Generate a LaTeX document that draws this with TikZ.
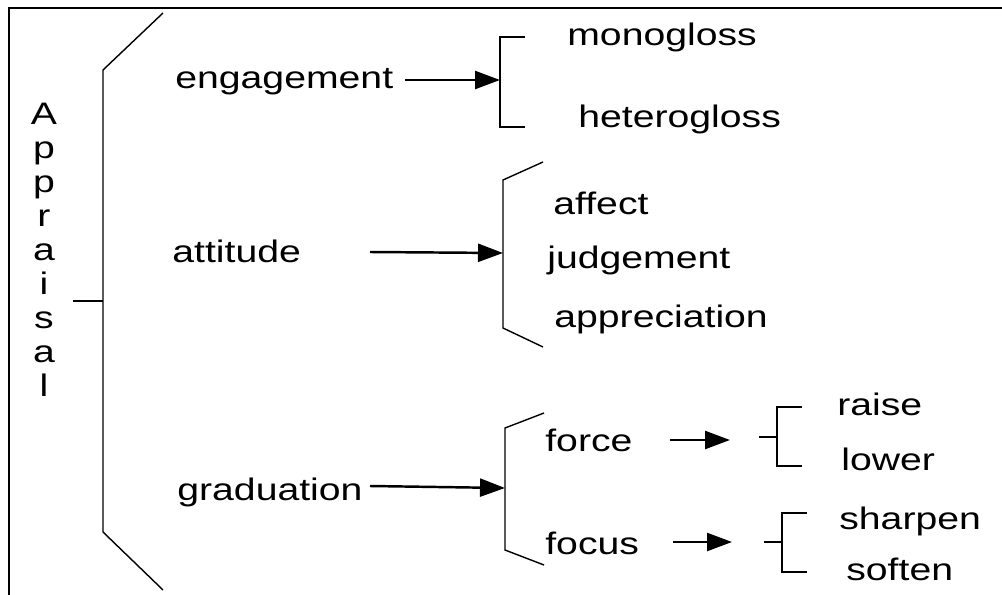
\documentclass[tikz,border=0pt]{standalone}
\usepackage{fontspec}
\setmainfont[FakeStretch=1.26]{Liberation Sans}
\usetikzlibrary{arrows.meta}

\begin{document}
\begin{tikzpicture}[x=0.02cm, y=-0.02cm,
    lbl/.style={inner sep=0pt, anchor=base west, font=\fontsize{17.7}{20}\selectfont},
    arr/.style={line width=1.4pt, -{Triangle[length=0.5cm, width=0.36cm]}},
    brk/.style={line width=0.8pt}]
    \useasboundingbox (0,0) rectangle (1002,595);
    \draw[line width=1.5pt] (9,595) -- (9,8) -- (1002,8);
    % vertical title
    \foreach \c [count=\i from 0] in {A,p,p,r,a,i,s,a,l}
        \node[lbl, anchor=base] (ap\i) at (44, 124+34*\i) {\c};
    \draw[brk] (73,301) -- (103,301);
    \draw[brk] (163,13) -- (103,70) -- (103,532) -- (163,590);
    % first level
    \node[lbl] (eng) at (175,89) {engagement};
    \node[lbl] (att) at (172,262) {attitude};
    \node[lbl] (grad) at (177,500) {graduation};
    % engagement
    \draw[brk] (525,37) -- (500,37) -- (500,127) -- (525,127);
    \coordinate (engA) at (405,80); \coordinate (engB) at (500,80);
    \draw[arr] (engA) -- (engB);
    \node[lbl] (mono) at (567,46) {monogloss};
    \node[lbl] (hetero) at (578,127) {heterogloss};
    % attitude
    \draw[brk] (543,162) -- (503,180) -- (503,328) -- (543,347);
    \coordinate (attA) at (370,252); \coordinate (attB) at (503,253);
    \draw[arr] (attA) -- (attB);
    \node[lbl] (affect) at (553,214) {affect};
    \node[lbl] (judge) at (547,268) {judgement};
    \node[lbl] (apprec) at (554,327) {appreciation};
    % graduation
    \draw[brk] (544,413) -- (505,428) -- (505,550) -- (544,565);
    \coordinate (gradA) at (370,486); \coordinate (gradB) at (505,488);
    \draw[arr] (gradA) -- (gradB);
    \node[lbl] (force) at (545,451) {force};
    \node[lbl] (focus) at (545,554) {focus};
    % force
    \coordinate (forA) at (670,440); \coordinate (forB) at (730,440);
    \draw[arr] (forA) -- (forB);
    \draw[brk] (759,437) -- (777,437);
    \draw[brk] (802,407) -- (777,407) -- (777,466) -- (802,466);
    \node[lbl] (raise) at (837,415) {raise};
    \node[lbl] (lower) at (841,470) {lower};
    % focus
    \coordinate (focA) at (673,542); \coordinate (focB) at (732,542);
    \draw[arr] (focA) -- (focB);
    \draw[brk] (764,542) -- (782,542);
    \draw[brk] (807,513) -- (782,513) -- (782,572) -- (807,572);
    \node[lbl] (sharpen) at (839,529) {sharpen};
    \node[lbl] (soften) at (846,580) {soften};
\end{tikzpicture}
\end{document}
